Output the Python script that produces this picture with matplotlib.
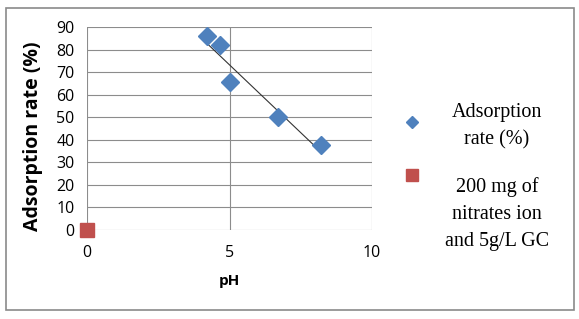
import numpy as np
from matplotlib import pyplot as plt
from matplotlib.lines import Line2D
from matplotlib.patches import Rectangle

# data
ph = [4.2, 4.65, 5.0, 6.7, 8.2]
adsorption = [86, 82, 65.5, 50, 37.5]
ref_x = [0]
ref_y = [0]
series_names = ['Adsorption\nrate (%)', '200 mg of\nnitrates ion\nand 5g/L GC']

blue = '#4F81BD'
red = '#C0504D'

fig = plt.figure(figsize=(5.79, 3.19), dpi=100)
ax = fig.add_axes([87/579, 1-230/319, (372-87)/579, (230-27)/319])

ax.plot(ph, adsorption, 'D', color=blue, markersize=9, zorder=3, clip_on=False)
ax.plot(ref_x, ref_y, 's', color=red, markersize=9.5, zorder=3, clip_on=False)

# linear trendline over the data range
k, b = np.polyfit(ph, adsorption, 1)
xs = np.array([min(ph), max(ph)])
ax.plot(xs, k*xs + b, color='#333333', linewidth=0.8, zorder=2)

ax.set_xlim(0, 10)
ax.set_ylim(0, 90)
ax.set_xticks([0, 5, 10])
ax.set_yticks(range(0, 91, 10))
ax.grid(True, color='#8c8c8c', linewidth=0.8)
ax.set_axisbelow(True)
for s in ax.spines.values():
    s.set_visible(False)
ax.tick_params(length=0, labelsize=11.5, pad=9)
ax.tick_params(axis='x', pad=11)
for lab in ax.get_xticklabels() + ax.get_yticklabels():
    lab.set_fontfamily('Open Sans')
ax.set_xlabel('pH', fontsize=11, fontweight='bold', family='Open Sans', labelpad=9)
ax.set_ylabel('Adsorption rate (%)', fontsize=14, fontweight='bold', family='Open Sans')
ax.yaxis.set_label_coords(-0.155, 0.463)

# legend drawn by hand on the right
fig.add_artist(Line2D([412/579], [1-122/319], marker='D', color=blue, markersize=6, transform=fig.transFigure))
fig.add_artist(Line2D([412/579], [1-175/319], marker='s', color=red, markersize=8, transform=fig.transFigure))
fig.text(497/579, 1-126/319, series_names[0], ha='center', va='center', family='Liberation Serif', fontsize=14.5, linespacing=1.55)
fig.text(497/579, 1-214/319, series_names[1], ha='center', va='center', family='Liberation Serif', fontsize=14.5, linespacing=1.55)

# outer frame
fig.add_artist(Rectangle((6/579, 9/319), 568/579, 302/319, transform=fig.transFigure, fill=False, edgecolor='#8a8a8a', linewidth=1.2))

fig.savefig('out.png', dpi=100)
